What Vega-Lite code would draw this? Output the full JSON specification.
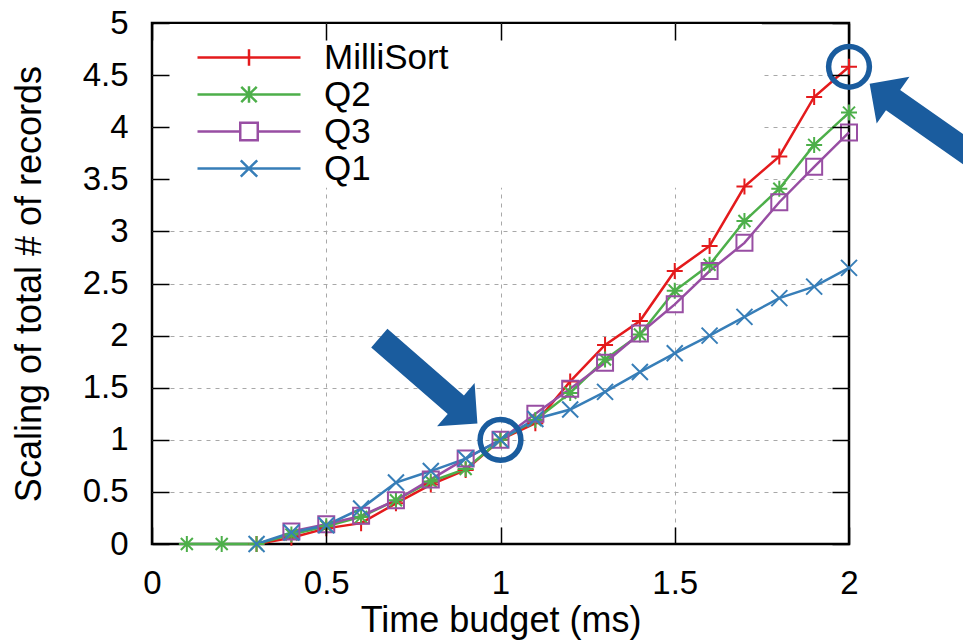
{
  "$schema": "https://vega.github.io/schema/vega-lite/v6.json",
  "width": 697,
  "height": 521,
  "autosize": "none",
  "padding": {"left": 152, "top": 23, "right": 114, "bottom": 97},
  "background": "white",
  "config": {
    "view": {"stroke": "black", "strokeWidth": 2.5},
    "font": "Liberation Sans",
    "axis": {"labelFont": "Liberation Sans", "titleFont": "Liberation Sans", "labelColor": "black", "titleColor": "black", "titleFontWeight": "normal", "domain": false, "tickColor": "black", "tickWidth": 1.5}
  },
  "datasets": {
    "series": [
      {"t": 0.3, "v": 0, "s": "MilliSort"},
      {"t": 0.4, "v": 0.06, "s": "MilliSort"},
      {"t": 0.5, "v": 0.15, "s": "MilliSort"},
      {"t": 0.6, "v": 0.2, "s": "MilliSort"},
      {"t": 0.7, "v": 0.39, "s": "MilliSort"},
      {"t": 0.8, "v": 0.57, "s": "MilliSort"},
      {"t": 0.9, "v": 0.71, "s": "MilliSort"},
      {"t": 1.0, "v": 1.0, "s": "MilliSort"},
      {"t": 1.1, "v": 1.16, "s": "MilliSort"},
      {"t": 1.2, "v": 1.56, "s": "MilliSort"},
      {"t": 1.3, "v": 1.91, "s": "MilliSort"},
      {"t": 1.4, "v": 2.14, "s": "MilliSort"},
      {"t": 1.5, "v": 2.62, "s": "MilliSort"},
      {"t": 1.6, "v": 2.86, "s": "MilliSort"},
      {"t": 1.7, "v": 3.43, "s": "MilliSort"},
      {"t": 1.8, "v": 3.72, "s": "MilliSort"},
      {"t": 1.9, "v": 4.29, "s": "MilliSort"},
      {"t": 2.0, "v": 4.58, "s": "MilliSort"},
      {"t": 0.1, "v": 0, "s": "Q2"},
      {"t": 0.2, "v": 0, "s": "Q2"},
      {"t": 0.3, "v": 0, "s": "Q2"},
      {"t": 0.4, "v": 0.09, "s": "Q2"},
      {"t": 0.5, "v": 0.17, "s": "Q2"},
      {"t": 0.6, "v": 0.26, "s": "Q2"},
      {"t": 0.7, "v": 0.42, "s": "Q2"},
      {"t": 0.8, "v": 0.6, "s": "Q2"},
      {"t": 0.9, "v": 0.72, "s": "Q2"},
      {"t": 1.0, "v": 1.0, "s": "Q2"},
      {"t": 1.1, "v": 1.19, "s": "Q2"},
      {"t": 1.2, "v": 1.45, "s": "Q2"},
      {"t": 1.3, "v": 1.77, "s": "Q2"},
      {"t": 1.4, "v": 2.01, "s": "Q2"},
      {"t": 1.5, "v": 2.43, "s": "Q2"},
      {"t": 1.6, "v": 2.68, "s": "Q2"},
      {"t": 1.7, "v": 3.1, "s": "Q2"},
      {"t": 1.8, "v": 3.41, "s": "Q2"},
      {"t": 1.9, "v": 3.83, "s": "Q2"},
      {"t": 2.0, "v": 4.14, "s": "Q2"},
      {"t": 0.4, "v": 0.12, "s": "Q3"},
      {"t": 0.5, "v": 0.19, "s": "Q3"},
      {"t": 0.6, "v": 0.27, "s": "Q3"},
      {"t": 0.7, "v": 0.42, "s": "Q3"},
      {"t": 0.8, "v": 0.62, "s": "Q3"},
      {"t": 0.9, "v": 0.82, "s": "Q3"},
      {"t": 1.0, "v": 1.0, "s": "Q3"},
      {"t": 1.1, "v": 1.25, "s": "Q3"},
      {"t": 1.2, "v": 1.49, "s": "Q3"},
      {"t": 1.3, "v": 1.74, "s": "Q3"},
      {"t": 1.4, "v": 2.02, "s": "Q3"},
      {"t": 1.5, "v": 2.3, "s": "Q3"},
      {"t": 1.6, "v": 2.62, "s": "Q3"},
      {"t": 1.7, "v": 2.89, "s": "Q3"},
      {"t": 1.8, "v": 3.28, "s": "Q3"},
      {"t": 1.9, "v": 3.62, "s": "Q3"},
      {"t": 2.0, "v": 3.95, "s": "Q3"},
      {"t": 0.3, "v": 0, "s": "Q1"},
      {"t": 0.4, "v": 0.11, "s": "Q1"},
      {"t": 0.5, "v": 0.18, "s": "Q1"},
      {"t": 0.6, "v": 0.34, "s": "Q1"},
      {"t": 0.7, "v": 0.59, "s": "Q1"},
      {"t": 0.8, "v": 0.7, "s": "Q1"},
      {"t": 0.9, "v": 0.82, "s": "Q1"},
      {"t": 1.0, "v": 1.0, "s": "Q1"},
      {"t": 1.1, "v": 1.2, "s": "Q1"},
      {"t": 1.2, "v": 1.29, "s": "Q1"},
      {"t": 1.3, "v": 1.46, "s": "Q1"},
      {"t": 1.4, "v": 1.65, "s": "Q1"},
      {"t": 1.5, "v": 1.83, "s": "Q1"},
      {"t": 1.6, "v": 2.0, "s": "Q1"},
      {"t": 1.7, "v": 2.18, "s": "Q1"},
      {"t": 1.8, "v": 2.36, "s": "Q1"},
      {"t": 1.9, "v": 2.47, "s": "Q1"},
      {"t": 2.0, "v": 2.65, "s": "Q1"}
    ],
    "circles": [
      {"t": 1.0, "v": 1.0},
      {"t": 2.0, "v": 4.58}
    ],
    "arrows": [
      {"t": 0.793, "v": 1.566, "dir": "down-right"},
      {"t": 2.212, "v": 4.059, "dir": "up-left"}
    ]
  },
  "resolve": {"axis": {"x": "independent", "y": "independent"}},
  "layer": [
    {
      "data": {"name": "series"},
      "mark": {"type": "rule", "opacity": 0},
      "encoding": {
        "x": {"field": "t", "type": "quantitative", "scale": {"domain": [0, 2], "nice": false, "zero": false},
              "axis": {"orient": "bottom", "zindex": 0, "title": null, "labels": false, "ticks": false, "values": [0.5, 1, 1.5], "grid": true, "gridColor": "#a8a8a8", "gridDash": [4, 5], "gridWidth": 1}},
        "y": {"field": "v", "type": "quantitative", "scale": {"domain": [0, 5], "nice": false, "zero": false},
              "axis": {"orient": "left", "zindex": 0, "title": null, "labels": false, "ticks": false, "values": [0.5, 1, 1.5, 2, 2.5, 3, 3.5, 4, 4.5], "grid": true, "gridColor": "#a8a8a8", "gridDash": [4, 5], "gridWidth": 1}}
      }
    },
    {
      "data": {"values": [{}]},
      "mark": {"type": "rect", "color": "white", "opacity": 1},
      "encoding": {
        "x": {"datum": 0.006, "type": "quantitative", "scale": {"domain": [0, 2], "nice": false, "zero": false}, "axis": null},
        "x2": {"datum": 1.75},
        "y": {"datum": 3.42, "type": "quantitative", "scale": {"domain": [0, 5], "nice": false, "zero": false}, "axis": null},
        "y2": {"datum": 4.99}
      }
    },
    {
      "data": {"name": "series"},
      "mark": {"type": "line", "strokeWidth": 2.5},
      "encoding": {
        "x": {"field": "t", "type": "quantitative", "scale": {"domain": [0, 2], "nice": false, "zero": false},
              "axis": {"orient": "bottom", "zindex": 2, "title": "Time budget (ms)", "titleFontSize": 36, "titlePadding": 3, "values": [0, 0.5, 1, 1.5, 2], "format": ".1~f", "labelFontSize": 33, "labelPadding": 40, "tickSize": -17, "labelFlush": false, "grid": false}},
        "y": {"field": "v", "type": "quantitative", "scale": {"domain": [0, 5], "nice": false, "zero": false},
              "axis": {"orient": "left", "zindex": 2, "title": "Scaling of total # of records", "titleFontSize": 36, "titlePadding": 34, "values": [0, 0.5, 1, 1.5, 2, 2.5, 3, 3.5, 4, 4.5, 5], "format": ".1~f", "labelFontSize": 33, "labelPadding": 41, "tickSize": -17, "labelFlush": false, "grid": false}},
        "color": {"field": "s", "type": "nominal",
                  "scale": {"domain": ["MilliSort", "Q2", "Q3", "Q1"], "range": ["#e41a1c", "#4daf4a", "#984ea3", "#377eb8"]},
                  "legend": {"orient": "none", "legendX": 44, "legendY": 16, "title": null, "clipHeight": 37, "rowPadding": 0, "padding": 0,
                             "symbolSize": 10609, "symbolStrokeWidth": 2.5, "labelOffset": 22, "labelFontSize": 35, "labelFont": "Liberation Sans", "labelColor": "black", "labelLimit": 400,
                             "encode": {"symbols": {"update": {
                               "fill": {"value": "transparent"},
                               "shape": {"signal": "datum.value === 'MilliSort' ? 'M-1,0H1M0,-0.16V0.16' : datum.value === 'Q2' ? 'M-1,0H1M0,-0.16V0.16M-0.15,-0.15L0.15,0.15M-0.15,0.15L0.15,-0.15' : datum.value === 'Q3' ? 'M-1,0H-0.17M0.17,0H1M-0.17,-0.17H0.17V0.17H-0.17Z' : 'M-1,0H1M-0.16,-0.16L0.16,0.16M-0.16,0.16L0.16,-0.16'"}
                             }}}}}
      }
    },
    {
      "data": {"name": "series"},
      "transform": [{"filter": "datum.s === 'MilliSort'"}],
      "mark": {"type": "point", "filled": false, "strokeWidth": 2, "size": 256, "opacity": 1, "color": "#e41a1c", "shape": "M-1,0H1M0,-1V1"},
      "encoding": {
        "x": {"field": "t", "type": "quantitative", "scale": {"domain": [0, 2], "nice": false, "zero": false}, "axis": null},
        "y": {"field": "v", "type": "quantitative", "scale": {"domain": [0, 5], "nice": false, "zero": false}, "axis": null}
      }
    },
    {
      "data": {"name": "series"},
      "transform": [{"filter": "datum.s === 'Q2'"}],
      "mark": {"type": "point", "filled": false, "strokeWidth": 2, "size": 256, "opacity": 1, "color": "#4daf4a", "shape": "M-1,0H1M0,-1V1M-0.75,-0.75L0.75,0.75M-0.75,0.75L0.75,-0.75"},
      "encoding": {
        "x": {"field": "t", "type": "quantitative", "scale": {"domain": [0, 2], "nice": false, "zero": false}, "axis": null},
        "y": {"field": "v", "type": "quantitative", "scale": {"domain": [0, 5], "nice": false, "zero": false}, "axis": null}
      }
    },
    {
      "data": {"name": "series"},
      "transform": [{"filter": "datum.s === 'Q3'"}],
      "mark": {"type": "point", "filled": false, "strokeWidth": 2, "size": 256, "opacity": 1, "color": "#984ea3", "shape": "M-1,-1H1V1H-1Z"},
      "encoding": {
        "x": {"field": "t", "type": "quantitative", "scale": {"domain": [0, 2], "nice": false, "zero": false}, "axis": null},
        "y": {"field": "v", "type": "quantitative", "scale": {"domain": [0, 5], "nice": false, "zero": false}, "axis": null}
      }
    },
    {
      "data": {"name": "series"},
      "transform": [{"filter": "datum.s === 'Q1'"}],
      "mark": {"type": "point", "filled": false, "strokeWidth": 2, "size": 256, "opacity": 1, "color": "#377eb8", "shape": "M-1,-1L1,1M-1,1L1,-1"},
      "encoding": {
        "x": {"field": "t", "type": "quantitative", "scale": {"domain": [0, 2], "nice": false, "zero": false}, "axis": null},
        "y": {"field": "v", "type": "quantitative", "scale": {"domain": [0, 5], "nice": false, "zero": false}, "axis": null}
      }
    },
    {
      "data": {"name": "circles"},
      "mark": {"type": "point", "shape": "circle", "filled": false, "size": 1662, "strokeWidth": 5.5, "color": "#1a5c9e", "opacity": 1},
      "encoding": {
        "x": {"field": "t", "type": "quantitative", "scale": {"domain": [0, 2], "nice": false, "zero": false},
              "axis": {"orient": "top", "zindex": 2, "title": null, "labels": false, "grid": false, "values": [0, 0.5, 1, 1.5, 2], "tickSize": -17}},
        "y": {"field": "v", "type": "quantitative", "scale": {"domain": [0, 5], "nice": false, "zero": false},
              "axis": {"orient": "right", "zindex": 2, "title": null, "labels": false, "grid": false, "values": [0, 0.5, 1, 1.5, 2, 2.5, 3, 3.5, 4, 4.5, 5], "tickSize": -17}}
      }
    },
    {
      "data": {"name": "arrows"},
      "mark": {"type": "point", "filled": true, "size": 16900, "color": "#1a5c9e", "opacity": 1, "strokeWidth": 0,
               "shape": "M-0.19,1L0.19,1L0.19,-0.56L0.44,-0.56L0,-1L-0.44,-0.56L-0.19,-0.56Z"},
      "encoding": {
        "x": {"field": "t", "type": "quantitative", "scale": {"domain": [0, 2], "nice": false, "zero": false}, "axis": null},
        "y": {"field": "v", "type": "quantitative", "scale": {"domain": [0, 5], "nice": false, "zero": false}, "axis": null},
        "angle": {"condition": {"test": "datum.dir === 'up-left'", "value": 305}, "value": 131}
      }
    }
  ]
}
